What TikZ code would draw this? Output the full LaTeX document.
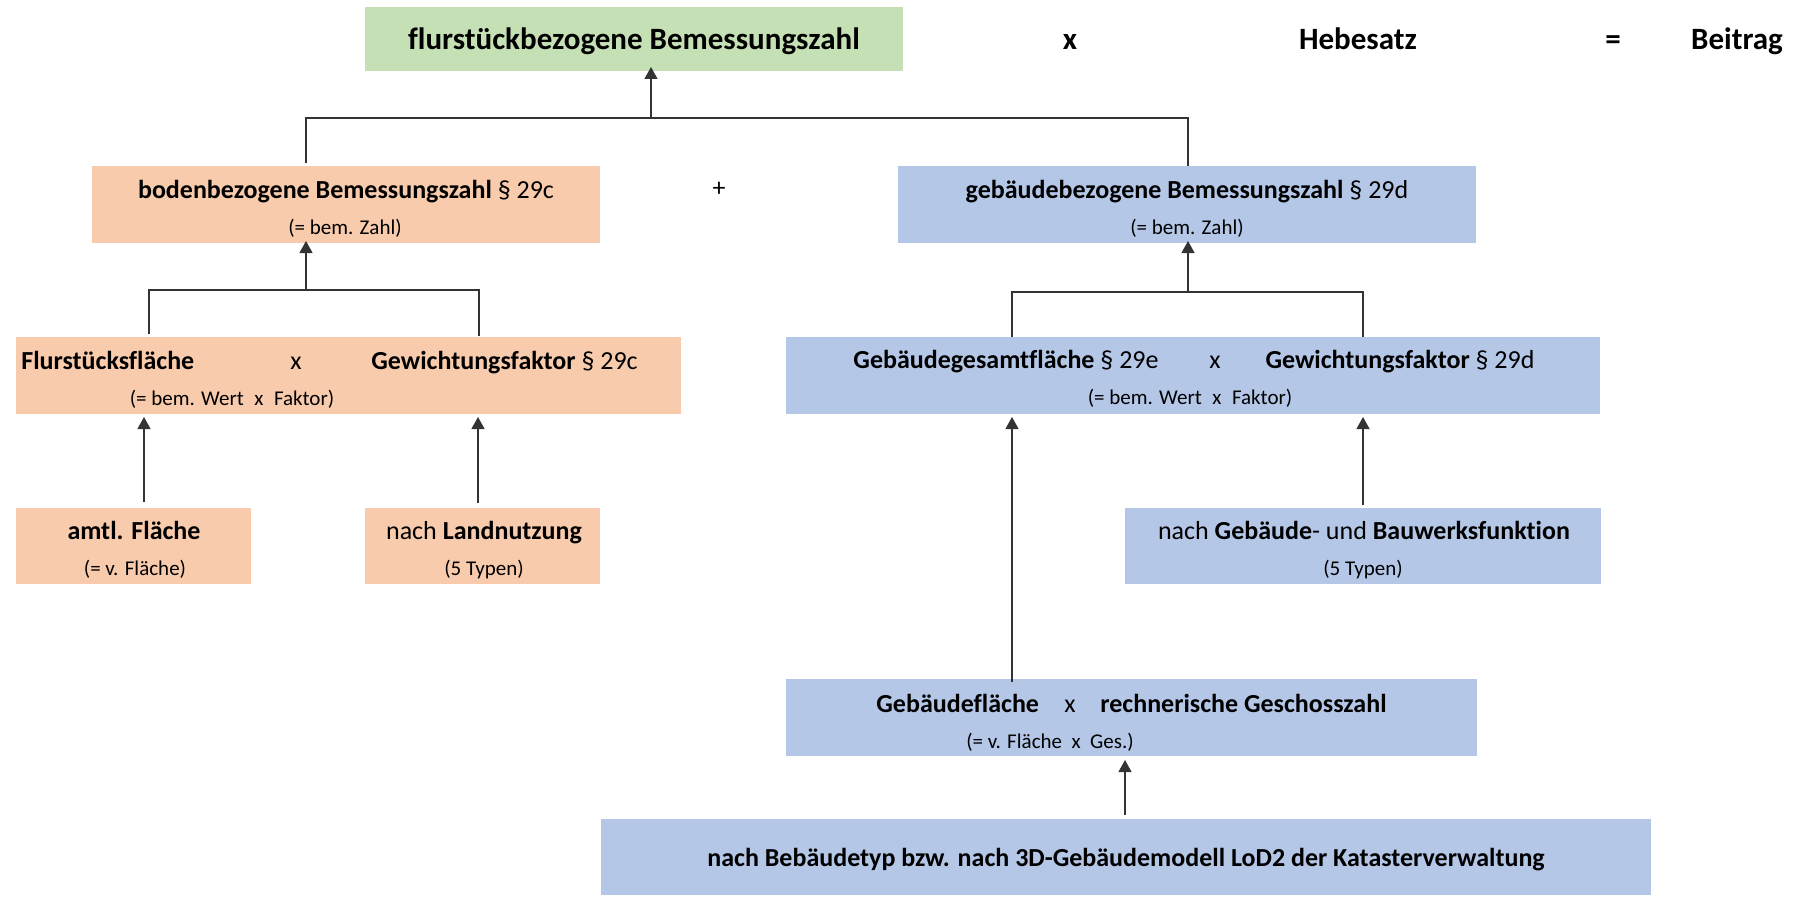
\documentclass[tikz,border=0pt]{standalone}
\usepackage{fontspec}
\setmainfont{Carlito}[Ligatures=NoCommon]
\usetikzlibrary{arrows.meta,fit}
\definecolor{cgreen}{HTML}{C5E0B4}
\definecolor{corange}{HTML}{F8CBAD}
\definecolor{cblue}{HTML}{B4C7E7}
\begin{document}
\begin{tikzpicture}[x=0.5pt,y=-0.5pt,
  box/.style={inner sep=0pt, outer sep=0pt, draw=none},
  gbox/.style={box, fill=cgreen},
  obox/.style={box, fill=corange},
  bbox/.style={box, fill=cblue},
  big/.style={font=\fontsize{15.5}{18}\selectfont\bfseries, inner sep=0pt, anchor=base},
  txt/.style={font=\fontsize{13}{15}\selectfont, inner sep=0pt, anchor=base},
  txtw/.style={txt, anchor=base west},
  sml/.style={font=\fontsize{10.5}{12}\selectfont, inner sep=0pt, anchor=base},
  conn/.style={draw=black!80, line width=0.6pt},
  arr/.style={conn, -{Triangle[width=6.5pt,length=6pt]}},
]
\useasboundingbox (0,0) rectangle (1798,899);

% ---------- boxes ----------
\node[gbox, fit={(365,7) (903,71)}] (green) {};
\node[obox, fit={(92,166) (600,243)}] (boden) {};
\node[bbox, fit={(898,166) (1476,243)}] (gebaeude) {};
\node[obox, fit={(16,337) (681,414)}] (flur) {};
\node[obox, fit={(16,508) (251,584)}] (amtl) {};
\node[obox, fit={(365,508) (600,584)}] (land) {};
\node[bbox, fit={(786,337) (1600,414)}] (gges) {};
\node[bbox, fit={(1125,508) (1601,584)}] (bauw) {};
\node[bbox, fit={(786,679) (1477,756)}] (gfl) {};
\node[bbox, fit={(601,819) (1651,895)}] (lod) {};

% ---------- top row ----------
\node[big] (title) at (634,50) {flurstückbezogene Bemessungszahl};
\node[big] (mul) at (1070,50) {x};
\node[big] (hebe) at (1358,50) {Hebesatz};
\node[big] (eq) at (1613,50) {=};
\node[big] (beitrag) at (1737,50) {Beitrag};

% ---------- level 1 ----------
\node[txt] (bodenA) at (346,198) {\textbf{bodenbezogene Bemessungszahl} § 29c};
\node[sml] (bodenB) at (345,234) {(= bem. Zahl)};
\node[txt, anchor=center] (plus) at (719,189) {+};
\node[txt] (gebA) at (1187,198) {\textbf{gebäudebezogene Bemessungszahl} § 29d};
\node[sml] (gebB) at (1187,234) {(= bem. Zahl)};

% ---------- level 2 left ----------
\node[txtw] (flurA) at (21,369) {\textbf{Flurstücksfläche}};
\node[txt] (flurX) at (296,369) {x};
\node[txtw] (flurC) at (371,369) {\textbf{Gewichtungsfaktor} § 29c};
\node[sml] (flurB) at (232,405) {(= bem. Wert\hspace{.5em}x\hspace{.5em}Faktor)};

% ---------- level 2 right ----------
\node[txt] (ggesA) at (1006,368) {\textbf{Gebäudegesamtfläche} § 29e};
\node[txt] (ggesX) at (1215,368) {x};
\node[txt] (ggesC) at (1400,368) {\textbf{Gewichtungsfaktor} § 29d};
\node[sml] (ggesB) at (1190,404) {(= bem. Wert\hspace{.5em}x\hspace{.5em}Faktor)};

% ---------- level 3 ----------
\node[txt] (amtlA) at (134,539) {\textbf{amtl. Fläche}};
\node[sml] (amtlB) at (135,575) {(= v. Fläche)};
\node[txt] (landA) at (484,539) {nach \textbf{Landnutzung}};
\node[sml] (landB) at (484,575) {(5 Typen)};
\node[txt] (bauwA) at (1364,539) {nach \textbf{Gebäude}- und \textbf{Bauwerksfunktion}};
\node[sml] (bauwB) at (1363,575) {(5 Typen)};

% ---------- level 4/5 ----------
\node[txtw] (gflA) at (876,712) {\textbf{Gebäudefläche}};
\node[txt] (gflX) at (1070,712) {x};
\node[txtw] (gflC) at (1100,712) {\textbf{rechnerische Geschosszahl}};
\node[sml] (gflB) at (1050,748) {(= v. Fläche\hspace{.45em}x\hspace{.45em}Ges.)};
\node[txt] (lodA) at (1126,866) {\textbf{nach Bebäudetyp bzw. nach 3D-Gebäudemodell LoD2 der Katasterverwaltung}};

% ---------- junction coordinates ----------
\coordinate (b1L) at (306,118);
\coordinate (b1M) at (651,118);
\coordinate (b1R) at (1188,118);
\coordinate (b2L) at (149,290);
\coordinate (b2M) at (306,290);
\coordinate (b2R) at (479,290);
\coordinate (b3L) at (1012,292);
\coordinate (b3M) at (1188,292);
\coordinate (b3R) at (1363,292);
\coordinate (a1) at (144,0);
\coordinate (a2) at (478,0);
\coordinate (a3) at (1012,0);
\coordinate (a4) at (1363,0);
\coordinate (a5) at (1125,0);

% ---------- connectors ----------
\draw[conn, shorten <=1.5pt] (boden.north -| b1L) -- (b1L) -- (b1R) -- (gebaeude.north -| b1R);
\draw[arr, shorten >=-2pt] (b1M) -- (green.south -| b1M);

\draw[conn, shorten <=1.5pt] (flur.north -| b2L) -- (b2L) -- (b2R) -- ([yshift=0.75pt]flur.north -| b2R);
\draw[arr, shorten >=-1pt] (b2M) -- (boden.south -| b2M);

\draw[conn] (gges.north -| b3L) -- (b3L) -- (b3R) -- (gges.north -| b3R);
\draw[arr, shorten >=-1pt] (b3M) -- (gebaeude.south -| b3M);

\draw[arr, shorten <=3pt, shorten >=1.5pt] (amtl.north -| a1) -- (flur.south -| a1);
\draw[arr, shorten <=2.5pt, shorten >=1.5pt] (land.north -| a2) -- (flur.south -| a2);
\draw[arr, shorten <=-1.5pt, shorten >=1.5pt] (gfl.north -| a3) -- (gges.south -| a3);
\draw[arr, shorten <=1.5pt, shorten >=1.5pt] (bauw.north -| a4) -- (gges.south -| a4);
\draw[arr, shorten <=2pt, shorten >=2pt] (lod.north -| a5) -- (gfl.south -| a5);
\end{tikzpicture}
\end{document}
